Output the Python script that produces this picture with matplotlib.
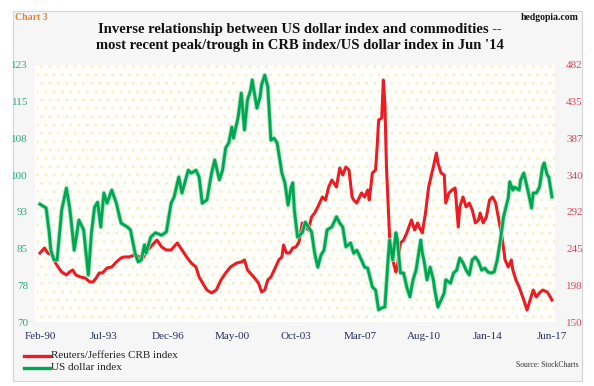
import matplotlib
matplotlib.use("Agg")
import matplotlib.pyplot as plt
import matplotlib.patheffects as pe
from matplotlib.patches import Rectangle
from matplotlib.lines import Line2D
import numpy as np
import pandas as pd

# ---------- data ----------------------------------------------------------

usd_dates = [
    "1990-02", "1990-06", "1990-08", "1990-09", "1990-11",
    "1991-01", "1991-04", "1991-07", "1991-09", "1991-10", "1991-12",
    "1992-03", "1992-06", "1992-09", "1992-11",
    "1993-01", "1993-03", "1993-05", "1993-07", "1993-09", "1993-12",
    "1994-03", "1994-06", "1994-10", "1994-12",
    "1995-03", "1995-05", "1995-07", "1995-09", "1995-10",
    "1996-01", "1996-04", "1996-08", "1996-11",
    "1997-02", "1997-04", "1997-07", "1997-09",
    "1998-01", "1998-03", "1998-06", "1998-08", "1998-10",
    "1999-01", "1999-04", "1999-06", "1999-09", "1999-11",
    "2000-01", "2000-03", "2000-05", "2000-06", "2000-09", "2000-11",
    "2001-01", "2001-03", "2001-05", "2001-06", "2001-09", "2001-11", "2001-12",
    "2002-02", "2002-04", "2002-06", "2002-08", "2002-10",
    "2003-01", "2003-03", "2003-05", "2003-07", "2003-08", "2003-09", "2003-11",
    "2004-02", "2004-04", "2004-06", "2004-08", "2004-10", "2004-12",
    "2005-02", "2005-04", "2005-06", "2005-09", "2005-12",
    "2006-02", "2006-04", "2006-06", "2006-09", "2006-11",
    "2007-01", "2007-04", "2007-06", "2007-08", "2007-11",
    "2008-01", "2008-03", "2008-05", "2008-07", "2008-09", "2008-10", "2008-12",
    "2009-02", "2009-03", "2009-05", "2009-07", "2009-09", "2009-11",
    "2010-01", "2010-03", "2010-04", "2010-06", "2010-07", "2010-08", "2010-10", "2010-12",
    "2011-02", "2011-03", "2011-05", "2011-07", "2011-09", "2011-10",
    "2012-01", "2012-03", "2012-05", "2012-07", "2012-09", "2012-11",
    "2013-01", "2013-03", "2013-05", "2013-07", "2013-09", "2013-11",
    "2014-01", "2014-03", "2014-05", "2014-07", "2014-09", "2014-11",
    "2015-02", "2015-03", "2015-05", "2015-06", "2015-09", "2015-10", "2015-12",
    "2016-01", "2016-03", "2016-05", "2016-06", "2016-08", "2016-10", "2016-12",
    "2017-01", "2017-03", "2017-04", "2017-06",
]
usd_values = [
    94.3, 93.5, 88.4, 84.8, 82.8,
    82.8, 93.1, 97.6, 93.7, 91.0, 84.8,
    91.0, 89.0, 79.7, 88.4,
    93.7, 94.7, 89.6, 96.6, 94.5, 97.2,
    94.5, 90.4, 89.6, 89.0,
    84.2, 82.4, 82.8, 85.9, 84.2,
    87.5, 88.4, 87.9, 88.6,
    94.5, 95.8, 99.9, 96.6,
    101.3, 100.7, 101.3, 99.9, 94.5,
    95.2, 100.7, 103.4, 99.3, 101.3,
    105.9, 106.9, 110.2, 107.9, 112.3, 117.2,
    109.6, 115.8, 117.8, 119.9, 114.1, 116.4, 118.9,
    120.9, 118.5, 107.5, 107.9, 106.9,
    100.7, 98.7, 94.1, 97.8, 98.7, 93.1, 87.5,
    88.4, 90.6, 89.6, 88.6, 84.2, 81.3,
    83.8, 84.8, 89.0, 89.6, 91.7,
    90.4, 89.6, 85.5, 86.3, 84.2,
    84.8, 82.8, 81.3, 81.1, 77.2,
    76.6, 72.5, 72.9, 73.1, 82.8, 86.9, 82.8,
    88.4, 86.9, 80.1, 80.1, 77.2, 75.2,
    78.7, 80.7, 82.8, 86.9, 84.2, 82.8, 78.7, 81.3,
    78.7, 76.6, 73.1, 74.5, 76.0, 78.7,
    78.0, 80.1, 80.7, 83.2, 82.2, 80.7,
    79.7, 82.8, 83.4, 82.4, 80.7, 81.1,
    80.3, 80.1, 80.3, 82.8, 86.9, 91.7,
    95.6, 98.9, 97.2, 97.8, 97.2, 99.3, 100.7,
    99.3, 96.6, 93.5, 96.6, 96.6, 97.8, 102.0,
    102.8, 100.3, 99.9, 95.8,
]

crb_dates = [
    "1990-02", "1990-05", "1990-07", "1990-10", "1990-12",
    "1991-03", "1991-04", "1991-07", "1991-09", "1991-11",
    "1992-01", "1992-04", "1992-07", "1992-10", "1992-12",
    "1993-02", "1993-04", "1993-06", "1993-09", "1993-12",
    "1994-03", "1994-06", "1994-08", "1994-11",
    "1995-03", "1995-06", "1995-08", "1995-11",
    "1996-02", "1996-05", "1996-08", "1996-11",
    "1997-02", "1997-06", "1997-09", "1997-12",
    "1998-03", "1998-06", "1998-08", "1998-11",
    "1999-01", "1999-04", "1999-07", "1999-10",
    "2000-01", "2000-04", "2000-08", "2000-11",
    "2001-01", "2001-03", "2001-07", "2001-10", "2001-12",
    "2002-02", "2002-04", "2002-06", "2002-09", "2002-11",
    "2003-01", "2003-02", "2003-04", "2003-06", "2003-08", "2003-10", "2003-12",
    "2004-02", "2004-04", "2004-06", "2004-08", "2004-10", "2004-12",
    "2005-03", "2005-05", "2005-07", "2005-09", "2005-12",
    "2006-02", "2006-04", "2006-06", "2006-08", "2006-10", "2006-11",
    "2007-01", "2007-04", "2007-06", "2007-08", "2007-09", "2007-11",
    "2008-01", "2008-02", "2008-03", "2008-05", "2008-06", "2008-07", "2008-08", "2008-10", "2008-12",
    "2009-02", "2009-03", "2009-05", "2009-07", "2009-09", "2009-12",
    "2010-02", "2010-04", "2010-05", "2010-07", "2010-09", "2010-11",
    "2011-02", "2011-04", "2011-05", "2011-07", "2011-09", "2011-10", "2011-12",
    "2012-02", "2012-04", "2012-06", "2012-07", "2012-09", "2012-11",
    "2013-01", "2013-03", "2013-05", "2013-07", "2013-08", "2013-10", "2013-12",
    "2014-02", "2014-04", "2014-06", "2014-08", "2014-10", "2014-12",
    "2015-02", "2015-04", "2015-05", "2015-07", "2015-09", "2015-12",
    "2016-02", "2016-04", "2016-06", "2016-08", "2016-10", "2016-12",
    "2017-03", "2017-05", "2017-06",
]
crb_values = [
    239.1, 245.6, 239.1, 236.6, 226.2,
    217.2, 214.6, 210.7, 214.6, 217.2,
    210.7, 208.1, 206.8, 201.7, 201.7,
    206.8, 213.3, 213.3, 219.8, 221.0,
    227.5, 232.7, 234.0, 234.0,
    236.6, 234.0, 232.7, 243.0,
    249.5, 255.9, 246.9, 243.0,
    243.0, 252.1, 243.0, 234.0,
    226.2, 221.0, 208.1, 197.8,
    191.3, 187.5, 191.3, 204.3,
    213.3, 221.0, 226.2, 227.5,
    230.1, 217.2, 208.1, 200.4, 188.8,
    191.3, 204.3, 208.1, 221.0, 230.1,
    234.0, 249.5, 239.1, 239.1, 245.6, 246.9, 253.3,
    277.9, 272.7, 268.8, 285.6, 290.8, 298.6,
    311.5, 307.6, 324.4, 333.4, 324.4,
    348.9, 339.9, 350.2, 346.4, 311.5, 307.6,
    303.7, 316.6, 311.5, 320.5, 307.6, 342.5,
    346.4, 376.1, 410.9, 413.5, 462.6, 432.9, 350.2, 259.8, 230.1,
    214.6, 221.0, 252.1, 255.9, 265.0, 281.8,
    268.8, 277.9, 272.7, 265.0, 290.8, 324.4,
    350.2, 368.3, 355.4, 342.5, 339.9, 303.7, 316.6,
    320.5, 323.1, 272.7, 298.6, 311.5, 298.6,
    303.7, 294.7, 277.9, 281.8, 290.8, 277.9, 285.6,
    307.6, 311.5, 303.7, 281.8, 259.8, 230.1,
    221.0, 230.1, 217.2, 204.3, 195.2, 178.4,
    165.5, 178.4, 191.3, 182.3, 187.5, 191.3,
    188.8, 182.3, 178.4,
]

x_tick_dates = ["1990-02", "1993-07", "1996-12", "2000-05", "2003-10",
                "2007-03", "2010-08", "2014-01", "2017-06"]
x_tick_labels = ["Feb-90", "Jul-93", "Dec-96", "May-00", "Oct-03",
                 "Mar-07", "Aug-10", "Jan-14", "Jun-17"]
usd_tick_labels = ["70", "78", "85", "93", "100", "108", "115", "123"]
crb_tick_labels = ["150", "198", "245", "292", "340", "387", "435", "482"]

# ---------- figure ----------------------------------------------------------

W, H = 594, 386
SERIF = ["Liberation Serif", "DejaVu Serif"]
plt.rcParams["font.family"] = SERIF
plt.rcParams["hatch.linewidth"] = 0.8

fig = plt.figure(figsize=(W / 100, H / 100), dpi=100)
fig.patch.set_facecolor("white")


def fx(x):
    return x / W


def fy(y):
    return 1 - y / H


# outer chart frame
fig.add_artist(Rectangle((fx(13), fy(381)), fx(582) - fx(13), fy(11) - fy(381),
                         transform=fig.transFigure, facecolor="#f6f6f6",
                         edgecolor="#d2d6dc", lw=0.8, zorder=-3))

left, right, top, bottom = 35, 555, 65, 322
# faint dotted plot area
fig.add_artist(Rectangle((fx(left), fy(bottom)), fx(right) - fx(left), fy(top) - fy(bottom),
                         transform=fig.transFigure, facecolor="#fffffb",
                         edgecolor="#f4f0c4", hatch="..", lw=0, zorder=-2))

ax = fig.add_axes([fx(left), fy(bottom), fx(right) - fx(left), fy(top) - fy(bottom)])
ax2 = ax.twinx()
ax.set_zorder(2)
ax2.set_zorder(1)
ax.patch.set_visible(False)
ax2.patch.set_visible(False)

usd_x = pd.to_datetime(usd_dates)
crb_x = pd.to_datetime(crb_dates)

ax2.plot(crb_x, crb_values, color="#ec1c24", lw=2.2, solid_joinstyle="round")
ax.plot(usd_x, usd_values, color="#00a651", lw=2.0, solid_joinstyle="round",
        path_effects=[pe.Stroke(linewidth=3.2, foreground="#95e2b4"), pe.Normal()])

ax.set_ylim(70, 123)
ax.set_yticks(np.linspace(70, 123, 8))
ax.set_yticklabels(usd_tick_labels)
ax2.set_ylim(150, 482)
ax2.set_yticks(np.linspace(150, 482, 8))
ax2.set_yticklabels(crb_tick_labels)

xt = pd.to_datetime(x_tick_dates)
ax.set_xticks(xt)
ax.set_xticklabels(x_tick_labels)
ax.set_xlim(xt[0] - pd.Timedelta(days=97), xt[-1] + pd.Timedelta(days=60))

for a in (ax, ax2):
    for s in a.spines.values():
        s.set_visible(False)
ax.tick_params(axis="y", length=0, labelsize=8, labelcolor="#2bab7e", pad=5)
ax2.tick_params(axis="y", length=0, labelsize=8, labelcolor="#d8475c", pad=8)
ax.tick_params(axis="x", length=0, labelsize=8, labelcolor="#27305e", pad=7)

# ---------- texts -----------------------------------------------------------

fig.text(fx(300), fy(30), "Inverse relationship between US dollar index and commodities --",
         ha="center", va="center", fontsize=10.5, fontweight="bold", color="#111111")
fig.text(fx(300), fy(46), "most recent peak/trough in CRB index/US dollar index in Jun '14",
         ha="center", va="center", fontsize=10.5, fontweight="bold", color="#111111")
fig.text(fx(15), fy(18), "Chart 3", ha="left", va="center", fontsize=7,
         fontweight="bold", color="#e0843c")
fig.text(fx(579), fy(18), "hedgopia.com", ha="right", va="center", fontsize=7,
         fontweight="bold", color="#111111")

fig.add_artist(Line2D([fx(24), fx(50)], [fy(356), fy(356)], color="#ec1c24", lw=2.4,
                      transform=fig.transFigure))
fig.add_artist(Line2D([fx(24), fx(50)], [fy(368), fy(368)], color="#00a651", lw=2.4,
                      transform=fig.transFigure))
fig.text(fx(51), fy(356), "Reuters/Jefferies CRB index", ha="left", va="center",
         fontsize=8, color="#222222")
fig.text(fx(51), fy(368), "US dollar index", ha="left", va="center",
         fontsize=8, color="#222222")
fig.text(fx(578), fy(365), "Source: StockCharts", ha="right", va="center",
         fontsize=5.5, color="#333333")

fig.savefig("out.png", dpi=100)
